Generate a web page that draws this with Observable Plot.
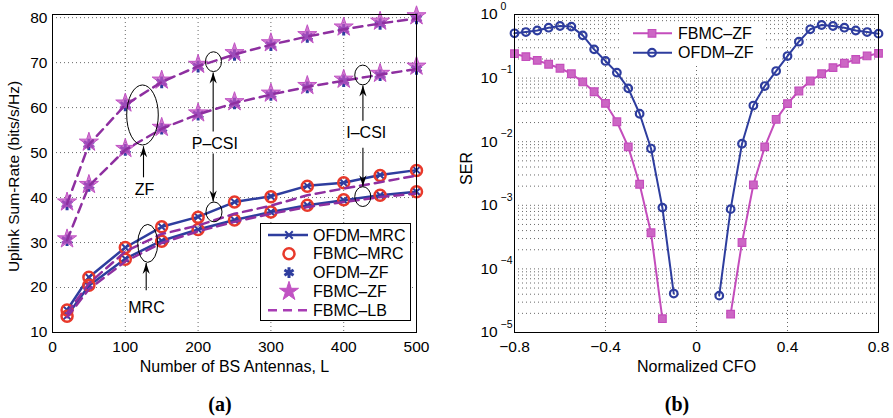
<!DOCTYPE html>
<html><head><meta charset="utf-8">
<script src="https://cdn.jsdelivr.net/npm/d3@7"></script>
<script src="https://cdn.jsdelivr.net/npm/@observablehq/plot@0.6"></script>
<style>
body{margin:0;background:#fff;}
#wrap{position:relative;width:893px;height:418px;overflow:hidden;font-family:"Liberation Sans",Arial,Helvetica,sans-serif;}
#pa{position:absolute;left:0;top:0;}
#pb{position:absolute;left:440px;top:0;}
#ov{position:absolute;left:0;top:0;pointer-events:none;}
.cap{position:absolute;top:392px;transform:translateX(-50%);font-family:"Liberation Serif","Times New Roman",serif;font-weight:bold;font-size:20px;line-height:24px;}
</style></head>
<body>
<div id="wrap"><div id="pa"></div><div id="pb"></div><svg id="ov" width="893" height="418"></svg>
<div class="cap" style="left:220px">(a)</div><div class="cap" style="left:677px">(b)</div></div>
<script>
// ---------- Panel (a) data ----------
const antennas = [20, 50, 100, 150, 200, 250, 300, 350, 400, 450, 500];
const ofdmMrcPcsi = [15.0, 22.3, 28.9, 33.5, 35.7, 39.0, 40.3, 42.6, 43.3, 45.0, 46.1];
const fbmcMrcPcsi = [15.0, 22.3, 28.9, 33.5, 35.6, 39.0, 40.2, 42.5, 43.3, 44.9, 46.0];
const ofdmMrcIcsi = [13.7, 20.4, 26.4, 30.4, 32.9, 35.0, 36.8, 38.3, 39.4, 40.5, 41.3];
const fbmcMrcIcsi = [13.6, 20.5, 26.3, 30.3, 32.9, 35.0, 36.8, 38.3, 39.5, 40.5, 41.3];
const ofdmZfPcsi = [38.5, 51.8, 60.5, 65.6, 69.1, 71.7, 73.9, 75.7, 77.3, 78.6, 79.8];
const fbmcZfPcsi = [39.0, 52.3, 61.0, 66.1, 69.6, 72.2, 74.4, 76.2, 77.9, 79.2, 80.4];
const ofdmZfIcsi = [30.5, 42.6, 50.6, 55.3, 58.4, 60.9, 62.8, 64.5, 65.9, 67.2, 68.6];
const fbmcZfIcsi = [30.8, 42.9, 50.9, 55.6, 58.8, 61.3, 63.2, 64.9, 66.3, 67.6, 69.2];
const lbMrcPcsi = [14.3, 20.9, 28.0, 31.9, 33.8, 36.4, 38.2, 40.5, 42.0, 43.4, 44.9];
const lbMrcIcsi = [13.4, 19.6, 25.8, 29.9, 32.5, 34.6, 36.4, 37.9, 39.0, 40.1, 40.9];
const lbZfPcsi = [38.6, 51.8, 60.6, 65.7, 69.2, 71.8, 74.0, 75.8, 77.4, 78.7, 79.8];
const lbZfIcsi = [30.5, 42.6, 50.6, 55.3, 58.5, 61.0, 62.9, 64.6, 66.0, 67.3, 68.6];
const rateTicksX = [0, 100, 200, 300, 400, 500];
const rateTicksY = [10, 20, 30, 40, 50, 60, 70, 80];
const legendA = ["OFDM–MRC", "FBMC–MRC", "OFDM–ZF", "FBMC–ZF", "FBMC–LB"];

// annotations (data coordinates)
const ellipseX = [124.3, 221.8, 222.5, 426.9, 426.9, 131.5];
const ellipseY = [58.25, 70.1, 36.7, 67.14, 40.1, 29.7];
const ellipseRx = [21.7, 11, 11, 11, 11, 13.7];
const ellipseRy = [6.67, 2.2, 2.2, 2.2, 2.2, 4.22];
const arrowX = [125, 220.7, 220.7, 426.4, 426.4, 128.7];
const arrowFrom = [44.5, 54.7, 49.8, 57.1, 51.1, 19.4];
const arrowTo = [51.4, 67.8, 39.1, 64.9, 42.5, 25.45];
const noteText = ["ZF", "P–CSI", "I–CSI", "MRC"];
const noteX = [126.4, 223, 431, 129.1];
const noteY = [41.8, 52.0, 54.36, 15.45];

// ---------- Panel (b) data ----------
const cfo = [-0.8, -0.75, -0.7, -0.65, -0.6, -0.55, -0.5, -0.45, -0.4, -0.35, -0.3, -0.25, -0.2, -0.15, -0.1, -0.05,
  0, 0.05, 0.1, 0.15, 0.2, 0.25, 0.3, 0.35, 0.4, 0.45, 0.5, 0.55, 0.6, 0.65, 0.7, 0.75, 0.8];
const serFbmc = [0.242, 0.217, 0.19, 0.165, 0.143, 0.117, 0.087, 0.061, 0.040, 0.0206, 0.0083, 0.00214, 3.7e-4, 1.65e-5,
  null, null, null, null, null,
  1.94e-5, 2.6e-4, 0.0021, 0.0083, 0.0225, 0.0397, 0.0627, 0.090, 0.117, 0.146, 0.171, 0.197, 0.223, 0.245];
const serOfdm = [0.506, 0.53, 0.56, 0.62, 0.66, 0.645, 0.47, 0.283, 0.186, 0.122, 0.069, 0.0275, 0.0078, 9.2e-4, 4.1e-5,
  null, null, null,
  3.8e-5, 8.7e-4, 0.0093, 0.037, 0.075, 0.129, 0.222, 0.374, 0.585, 0.684, 0.66, 0.62, 0.56, 0.53, 0.50];
const cfoTicks = [-0.8, -0.4, 0, 0.4, 0.8];
const cfoTickLabels = ["−0.8", "−0.4", "0", "0.4", "0.8"];
const serTicks = [1, 0.1, 0.01, 0.001, 1e-4, 1e-5];
const serExpLabels = ["0", "−1", "−2", "−3", "−4", "−5"];
const legendB = ["FBMC–ZF", "OFDM–ZF"];

// ---------- styles ----------
const FONT = '"Liberation Sans", Arial, Helvetica, sans-serif';
const BLUE = "#2e3d9e", RED = "#e8392b", STAR = "#c152c3", PURPLE = "#8e2fa0", MAG = "#c44dbc";
const gridStyle = {stroke: "#444", strokeOpacity: 0.8, strokeDasharray: "1,3", strokeWidth: 1};
const rows = (xs, ys, g) => xs.map((x, i) => ({x, y: ys[i], g}));

const headUp = {draw(ctx, size) { const k = Math.sqrt(size / Math.PI) / 6;
  ctx.moveTo(0, 0); ctx.lineTo(3.6 * k, 11 * k); ctx.lineTo(0, 7.5 * k); ctx.lineTo(-3.6 * k, 11 * k); ctx.closePath(); }};
const headDown = {draw(ctx, size) { const k = Math.sqrt(size / Math.PI) / 6;
  ctx.moveTo(0, 0); ctx.lineTo(3.6 * k, -11 * k); ctx.lineTo(0, -7.5 * k); ctx.lineTo(-3.6 * k, -11 * k); ctx.closePath(); }};

const mrcRows = [...rows(antennas, ofdmMrcPcsi, "P"), ...rows(antennas, ofdmMrcIcsi, "I")];
const fbmcMrcRows = [...rows(antennas, fbmcMrcPcsi, "P"), ...rows(antennas, fbmcMrcIcsi, "I")];
const ofdmZfRows = [...rows(antennas, ofdmZfPcsi, "P"), ...rows(antennas, ofdmZfIcsi, "I")];
const fbmcZfRows = [...rows(antennas, fbmcZfPcsi, "P"), ...rows(antennas, fbmcZfIcsi, "I")];
const lbRows = [...rows(antennas, lbMrcPcsi, "MP"), ...rows(antennas, lbMrcIcsi, "MI"),
                ...rows(antennas, lbZfPcsi, "ZP"), ...rows(antennas, lbZfIcsi, "ZI")];
const arrowIdx = arrowX.map((_, i) => i);
const upIdx = arrowIdx.filter(i => arrowTo[i] > arrowFrom[i]);
const downIdx = arrowIdx.filter(i => arrowTo[i] < arrowFrom[i]);
const noteIdx = noteText.map((_, i) => i);

const plotA = Plot.plot({
  width: 440, height: 370,
  marginLeft: 52, marginRight: 24, marginTop: 14, marginBottom: 38,
  style: {fontFamily: FONT, fontSize: "16px", color: "#000", background: "transparent", overflow: "visible"},
  x: {domain: [0, 500], label: null},
  y: {domain: [10, 80.7], label: null},
  marks: [
    Plot.gridX(rateTicksX.slice(1, -1), gridStyle),
    Plot.gridY(rateTicksY.slice(1), gridStyle),
    Plot.axisX(rateTicksX, {tickSize: 0, tickPadding: 8, fontSize: 15.5, label: null}),
    Plot.axisY(rateTicksY, {tickSize: 0, tickPadding: 5, fontSize: 15.5, label: null}),
    Plot.text(["Uplink Sum-Rate (bits/s/Hz)"], {frameAnchor: "left", textAnchor: "middle", lineAnchor: "middle", dx: -38, dy: 3, rotate: -90, fontSize: 15.5}),
    Plot.text(["Number of BS Antennas, L"], {frameAnchor: "bottom", textAnchor: "middle", lineAnchor: "middle", dy: 34, fontSize: 16}),
    Plot.line(mrcRows, {x: "x", y: "y", z: "g", stroke: BLUE, strokeWidth: 2.5}),
    Plot.dot(mrcRows, {x: "x", y: "y", symbol: "times", stroke: BLUE, strokeWidth: 2, r: 3.5}),
    Plot.dot(fbmcMrcRows, {x: "x", y: "y", r: 5.5, stroke: RED, strokeWidth: 2.5, fill: "none"}),
    Plot.dot(ofdmZfRows, {x: "x", y: "y", symbol: "asterisk", stroke: BLUE, strokeWidth: 3, r: 5.5}),
    Plot.dot(fbmcZfRows, {x: "x", y: "y", symbol: "star", fill: STAR, fillOpacity: 0.75, stroke: STAR, strokeWidth: 1, r: 6}),
    Plot.line(lbRows, {x: "x", y: "y", z: "g", stroke: PURPLE, strokeWidth: 2.5, strokeDasharray: "9,6"}),
    Plot.link(arrowIdx, {x1: i => arrowX[i], x2: i => arrowX[i], y1: i => arrowFrom[i], y2: i => arrowTo[i], stroke: "#000", strokeWidth: 1.1}),
    Plot.dot(upIdx, {x: i => arrowX[i], y: i => arrowTo[i], symbol: headUp, r: 6, fill: "#000", stroke: "none"}),
    Plot.dot(downIdx, {x: i => arrowX[i], y: i => arrowTo[i], symbol: headDown, r: 6, fill: "#000", stroke: "none"}),
    Plot.text(noteIdx, {x: i => noteX[i], y: i => noteY[i], text: i => noteText[i], fontSize: 16, fill: "#000"}),
    Plot.frame({stroke: "#000", strokeWidth: 1})
  ]
});
document.getElementById("pa").append(plotA);
{
  const sx = plotA.scale("x"), sy = plotA.scale("y");
  d3.select(plotA).append("g").attr("fill", "none").attr("stroke", "#000").attr("stroke-width", 1)
    .selectAll("ellipse").data(ellipseX.map((_, i) => i)).join("ellipse")
    .attr("cx", i => sx.apply(ellipseX[i]))
    .attr("cy", i => sy.apply(ellipseY[i]))
    .attr("rx", i => Math.abs(sx.apply(ellipseX[i] + ellipseRx[i]) - sx.apply(ellipseX[i])))
    .attr("ry", i => Math.abs(sy.apply(ellipseY[i] + ellipseRy[i]) - sy.apply(ellipseY[i])));
}

const fbmcRows = rows(cfo, serFbmc, "F");
const ofdmRows = rows(cfo, serOfdm, "O");
const plotB = Plot.plot({
  width: 453, height: 370,
  marginLeft: 74, marginRight: 15, marginTop: 14, marginBottom: 38,
  style: {fontFamily: FONT, fontSize: "16px", color: "#000", background: "transparent", overflow: "visible"},
  x: {domain: [-0.8, 0.8], label: null},
  y: {type: "log", domain: [1e-5, 1], label: null, axis: null},
  marks: [
    Plot.gridY(d3.scaleLog().domain([1e-5, 1]).ticks(), gridStyle),
    Plot.gridX(cfoTicks.slice(1, -1), gridStyle),
    Plot.axisX(cfoTicks, {tickSize: 0, tickPadding: 8, fontSize: 15.5, label: null, tickFormat: d => cfoTickLabels[cfoTicks.indexOf(d)]}),
    Plot.text(serTicks, {y: d => d, frameAnchor: "left", text: () => "10", textAnchor: "start", lineAnchor: "middle", dx: -34, fontSize: 15.5}),
    Plot.text(serTicks, {y: d => d, frameAnchor: "left", text: (d, i) => serExpLabels[i], textAnchor: "start", lineAnchor: "middle", dx: -14, dy: -8, fontSize: 10.5}),
    Plot.text(["SER"], {frameAnchor: "left", textAnchor: "middle", lineAnchor: "middle", dx: -48, dy: -5, rotate: -90, fontSize: 16}),
    Plot.text(["Normalized CFO"], {frameAnchor: "bottom", textAnchor: "middle", lineAnchor: "middle", dy: 34, fontSize: 16}),
    Plot.line(fbmcRows, {x: "x", y: "y", stroke: MAG, strokeWidth: 2}),
    Plot.dot(fbmcRows, {x: "x", y: "y", symbol: "square", r: 4.3, fill: "#cc66c4", stroke: MAG, strokeWidth: 1.2}),
    Plot.line(ofdmRows, {x: "x", y: "y", stroke: BLUE, strokeWidth: 2}),
    Plot.dot(ofdmRows, {x: "x", y: "y", r: 3.8, fill: "none", stroke: BLUE, strokeWidth: 2.2}),
    Plot.frame({stroke: "#000", strokeWidth: 1})
  ]
});
document.getElementById("pb").append(plotB);

// ---------- legends ----------
const ov = d3.select("#ov").style("font-family", FONT);
const sym = (type, r) => d3.symbol(type, Math.PI * r * r)();
{
  const g = ov.append("g");
  g.append("rect").attr("x", 260.5).attr("y", 223.5).attr("width", 150).attr("height", 97)
    .attr("fill", "#fff").attr("stroke", "#000").attr("stroke-width", 1);
  legendA.forEach((lab, i) => {
    const y = 235 + i * 18.8;
    const e = g.append("g");
    if (i === 0) {
      e.append("line").attr("x1", 268).attr("x2", 308).attr("y1", y).attr("y2", y).attr("stroke", BLUE).attr("stroke-width", 2.5);
      e.append("path").attr("d", sym(d3.symbolTimes, 3.5)).attr("transform", `translate(289,${y})`).attr("fill", "none").attr("stroke", BLUE).attr("stroke-width", 2);
    } else if (i === 1) {
      e.append("circle").attr("cx", 289).attr("cy", y).attr("r", 5.5).attr("fill", "none").attr("stroke", RED).attr("stroke-width", 2.5);
    } else if (i === 2) {
      e.append("path").attr("d", sym(d3.symbolAsterisk, 5)).attr("transform", `translate(289,${y})`).attr("fill", "none").attr("stroke", BLUE).attr("stroke-width", 3);
    } else if (i === 3) {
      e.append("path").attr("d", sym(d3.symbolStar, 6)).attr("transform", `translate(289,${y})`).attr("fill", STAR).attr("stroke", STAR);
    } else {
      e.append("line").attr("x1", 268).attr("x2", 308).attr("y1", y).attr("y2", y).attr("stroke", "#a83cb4").attr("stroke-width", 2.5).attr("stroke-dasharray", "9,6");
    }
    e.append("text").attr("x", 313).attr("y", y).attr("dy", "0.35em").attr("font-size", 16).text(lab);
  });
}
{
  const g = ov.append("g");
  g.append("rect").attr("x", 622).attr("y", 22).attr("width", 142).attr("height", 42).attr("fill", "#fff");
  legendB.forEach((lab, i) => {
    const y = 33.3 + i * 19.4;
    const col = i === 0 ? MAG : BLUE;
    g.append("line").attr("x1", 633).attr("x2", 672).attr("y1", y).attr("y2", y).attr("stroke", col).attr("stroke-width", 2);
    if (i === 0) g.append("path").attr("d", sym(d3.symbolSquare, 4.3)).attr("transform", `translate(652,${y})`).attr("fill", "#cc66c4").attr("stroke", MAG).attr("stroke-width", 1.2);
    else g.append("circle").attr("cx", 652).attr("cy", y).attr("r", 3.8).attr("fill", "none").attr("stroke", BLUE).attr("stroke-width", 2.2);
    g.append("text").attr("x", 678).attr("y", y).attr("dy", "0.35em").attr("font-size", 16).text(lab);
  });
}
</script>
</body></html>
